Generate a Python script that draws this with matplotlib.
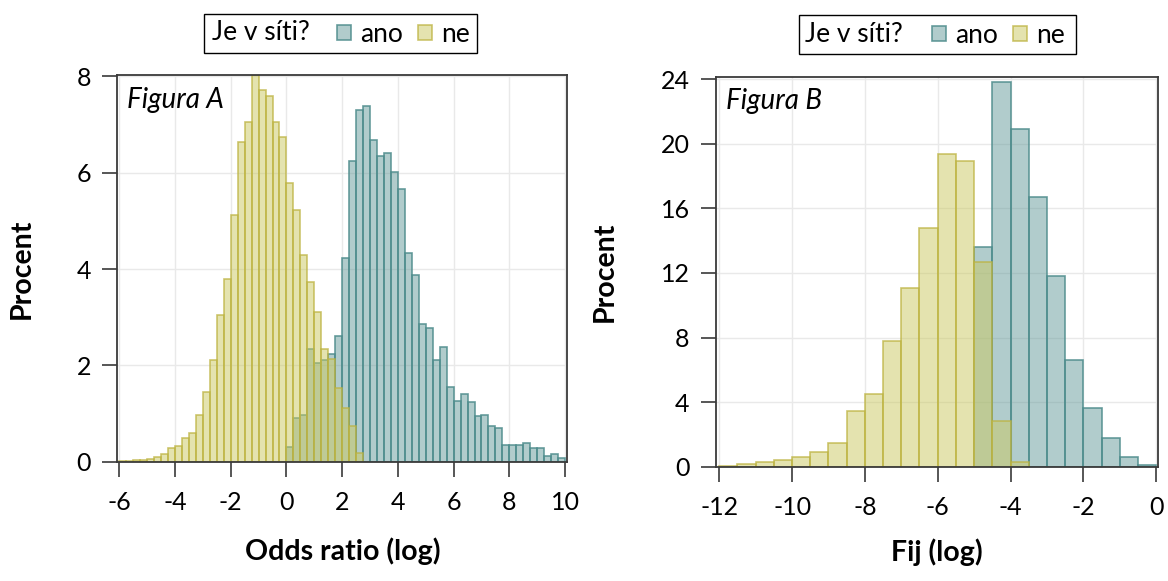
import numpy as np
import matplotlib
matplotlib.use("Agg")
import matplotlib.pyplot as plt
from matplotlib.patches import Patch, Rectangle

plt.rcParams["font.family"] = ["Lato", "DejaVu Sans"]
plt.rcParams["axes.unicode_minus"] = False

# ---- data: percent of cases per bin ----
# Figura A: odds ratio (log), bins of 0.25
or_bin_width = 0.25
or_ne_start = -6.0
or_ne = [0.01, 0.02, 0.03, 0.04, 0.05, 0.10, 0.17, 0.28, 0.33, 0.49,
         0.60, 0.96, 1.44, 2.12, 3.05, 3.79, 5.13, 6.63, 7.05, 8.02,
         7.72, 7.59, 7.06, 6.75, 5.78, 5.23, 4.30, 3.74, 3.10, 2.33,
         2.14, 1.54, 1.11, 0.75, 0.19]
or_ano_start = 0.0
or_ano = [0.31, 0.90, 0.98, 2.35, 2.04, 2.12, 2.23, 2.61, 4.22, 6.25,
          7.31, 7.39, 6.68, 6.34, 6.40, 6.02, 5.66, 4.34, 3.87, 2.85,
          2.78, 2.11, 2.38, 1.56, 1.26, 1.41, 1.25, 0.95, 0.98, 0.74,
          0.70, 0.35, 0.35, 0.35, 0.39, 0.28, 0.28, 0.12, 0.15, 0.07]

# Figura B: Fij (log), bins of 0.5
fij_bin_width = 0.5
fij_ne_start = -12.0
fij_ne = [0.05, 0.14, 0.31, 0.41, 0.58, 0.93, 1.49, 3.47, 4.48, 7.81,
          11.07, 14.81, 19.35, 18.96, 12.66, 2.85, 0.29]
fij_ano_start = -5.0
fij_ano = [13.63, 23.85, 20.92, 16.73, 11.83, 6.63, 3.61, 1.80, 0.62, 0.12]

xticks_a = [-6, -4, -2, 0, 2, 4, 6, 8, 10]
yticks_a = [0, 2, 4, 6, 8]
xticks_b = [-12, -10, -8, -6, -4, -2, 0]
yticks_b = [0, 4, 8, 12, 16, 20, 24]

legend_title = "Je v síti?"
labels = ["ano", "ne"]

# ---- styling ----
ANO_FACE = (0.396, 0.608, 0.608, 0.5)
ANO_EDGE = (0.30, 0.55, 0.55, 0.85)
NE_FACE = (0.796, 0.788, 0.380, 0.5)
NE_EDGE = (0.74, 0.70, 0.25, 0.75)
SPINE = "#3a3a3a"
TICK_FS = 18
LABEL_FS = 20.5
KEY_FS = 19
TAG_FS = 20

fig = plt.figure(figsize=(11.68, 5.81), dpi=100)
ax_a = fig.add_axes([117.3 / 1168, 1 - 461.7 / 581, 450 / 1168, 386.7 / 581])
ax_b = fig.add_axes([716 / 1168, 1 - 466.7 / 581, 442.3 / 1168, 390 / 581])


def bars(ax, start, width, values, face, edge):
    left = start + width * np.arange(len(values))
    ax.bar(left, values, width=width, align="edge", color=face,
           edgecolor=edge, linewidth=1.2, zorder=2)


def style(ax, xticks, yticks, xlim, ylim, xlabel, tag, xlab_pos, ylab_pos):
    ax.set_xlim(*xlim)
    ax.set_ylim(*ylim)
    ax.set_xticks(xticks)
    ax.set_yticks(yticks)
    ax.grid(True, color="#e9e9e9", linewidth=1.0, zorder=0)
    ax.set_axisbelow(True)
    for s in ax.spines.values():
        s.set_color(SPINE)
        s.set_linewidth(1.3)
    ax.tick_params(axis="both", direction="out", length=11, width=1.2,
                   color=SPINE, labelsize=TICK_FS, pad=8)
    ax.tick_params(axis="x", pad=10)
    ax.set_xlabel(xlabel, fontsize=LABEL_FS, fontweight="bold", va="center")
    ax.set_ylabel("Procent", fontsize=LABEL_FS, fontweight="bold", va="center")
    ax.xaxis.set_label_coords(*xlab_pos)
    ax.yaxis.set_label_coords(*ylab_pos)
    ax.text(0.022, 0.97, tag, transform=ax.transAxes, fontsize=TAG_FS,
            fontstyle="italic", va="top", ha="left")


bars(ax_a, or_ano_start, or_bin_width, or_ano, ANO_FACE, ANO_EDGE)
bars(ax_a, or_ne_start, or_bin_width, or_ne, NE_FACE, NE_EDGE)
style(ax_a, xticks_a, yticks_a, (-6.07, 10.08), (0, 8.03),
      "Odds ratio (log)", "Figura A", (0.5, -0.231), (-0.212, 0.5))

bars(ax_b, fij_ano_start, fij_bin_width, fij_ano, ANO_FACE, ANO_EDGE)
bars(ax_b, fij_ne_start, fij_bin_width, fij_ne, NE_FACE, NE_EDGE)
style(ax_b, xticks_b, yticks_b, (-12.09, 0.06), (0, 24.16),
      "Fij (log)", "Figura B", (0.5, -0.219), (-0.251, 0.5))


def key(frame_x, frame_y, frame_w, frame_h, title_x, entries_x, cy):
    fig.patches.append(Rectangle((frame_x, frame_y), frame_w, frame_h,
                                 transform=fig.transFigure, facecolor="white",
                                 edgecolor="black", linewidth=1.0))
    fig.text(title_x, cy, legend_title, fontsize=KEY_FS, va="center", ha="left")
    handles = [Patch(facecolor=ANO_FACE, edgecolor=ANO_EDGE, linewidth=1.2),
               Patch(facecolor=NE_FACE, edgecolor=NE_EDGE, linewidth=1.2)]
    fig.legend(handles, labels, loc="center left",
               bbox_to_anchor=(entries_x, cy - 0.002), ncol=2, frameon=False,
               fontsize=KEY_FS, handlelength=0.55, handleheight=0.5,
               handletextpad=0.35, columnspacing=0.55, borderpad=0,
               borderaxespad=0)


key(204 / 1168, 1 - 52.7 / 581, 273.3 / 1168, 38.7 / 581,
    211.7 / 1168, 336.7 / 1168, 1 - 33 / 581)
key(799.3 / 1168, 1 - 54 / 581, 276.7 / 1168, 39 / 581,
    805 / 1168, 931.7 / 1168, 1 - 34 / 581)

fig.savefig("out.png", dpi=100)
